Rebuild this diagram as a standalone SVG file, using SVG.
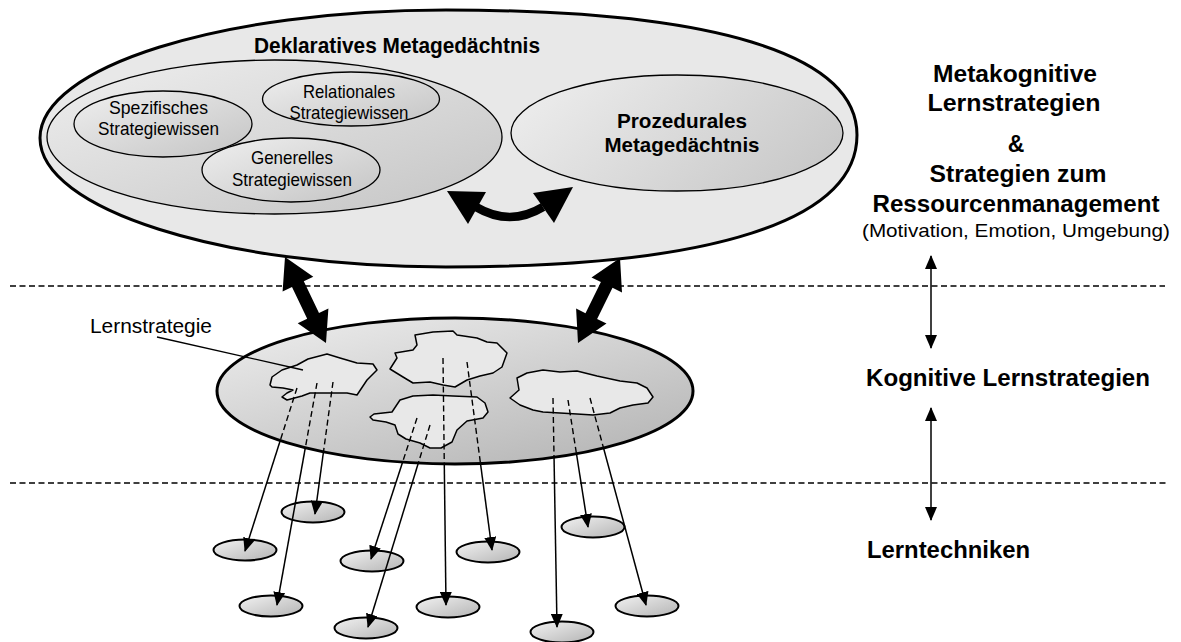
<svg xmlns="http://www.w3.org/2000/svg" width="1181" height="642" viewBox="0 0 1181 642">
  <defs>
    <style>
      .lbl { font-family: "Liberation Sans", Arial, sans-serif; fill: #000; }
      .b { font-weight: bold; }
      .mid { text-anchor: middle; }
      .blob { fill: #e8e8e8; stroke: #000; stroke-width: 1.5; stroke-linejoin: round; }
      .tech { fill: url(#gSmall); stroke: #000; stroke-width: 2; }
      .sep { fill: none; stroke: #000; stroke-width: 1.4; stroke-dasharray: 6 3.5; }
      .ray { fill: none; stroke: #000; stroke-width: 1.5; }
      .rayd { fill: none; stroke: #000; stroke-width: 1.4; stroke-dasharray: 6 3.5; }
    </style>
    <linearGradient id="gSoft" x1="0" y1="0" x2="1" y2="1">
      <stop offset="0" stop-color="#efefef"/>
      <stop offset="1" stop-color="#c4c4c4"/>
    </linearGradient>
    <linearGradient id="gProc" x1="0" y1="0.3" x2="1" y2="0.7">
      <stop offset="0" stop-color="#ececec"/>
      <stop offset="1" stop-color="#c8c8c8"/>
    </linearGradient>
    <linearGradient id="gKog" x1="0.1" y1="0" x2="0.9" y2="1">
      <stop offset="0" stop-color="#ececec"/>
      <stop offset="1" stop-color="#b4b4b4"/>
    </linearGradient>
    <linearGradient id="gSmall" x1="0" y1="0" x2="1" y2="1">
      <stop offset="0" stop-color="#f2f2f2"/>
      <stop offset="1" stop-color="#b4b4b4"/>
    </linearGradient>
    <marker id="tip" viewBox="0 0 14 12" refX="13" refY="6" markerWidth="14" markerHeight="12" markerUnits="userSpaceOnUse" orient="auto-start-reverse">
      <path d="M0,0 L14,6 L0,12 Z" fill="#000"/>
    </marker>
    <clipPath id="inKog">
      <ellipse cx="455" cy="391" rx="238" ry="73"/>
    </clipPath>
    <mask id="outKog" maskUnits="userSpaceOnUse" x="0" y="0" width="1181" height="642">
      <rect x="0" y="0" width="1181" height="642" fill="#fff"/>
      <ellipse cx="455" cy="391" rx="238" ry="73" fill="#000"/>
    </mask>
  </defs>

  <rect width="1181" height="642" fill="#fff"/>

  <!-- metacognitive memory -->
  <g id="meta">
    <path d="M40,138 C40,66.8 221.8,10 446,10 C713,10 857,53.8 857,135 C857,220.8 713,267 446,267 C221.8,267 40,209.2 40,138 Z" fill="#e8e8e8" stroke="#000" stroke-width="3"/>
    <text class="lbl b mid" x="397" y="53" font-size="22" textLength="286" lengthAdjust="spacingAndGlyphs">Deklaratives Metagedächtnis</text>
  </g>

  <g id="deklarativ">
    <ellipse cx="274.5" cy="137" rx="227.5" ry="77" fill="url(#gSoft)" stroke="#000" stroke-width="1.3"/>
  </g>

  <g id="spezifisch">
    <ellipse cx="163" cy="124" rx="89" ry="33" fill="url(#gSoft)" stroke="#000" stroke-width="1.3"/>
    <text class="lbl mid" x="158.5" y="114" font-size="18.5" textLength="99" lengthAdjust="spacingAndGlyphs">Spezifisches</text>
    <text class="lbl mid" x="158.5" y="135" font-size="18.5" textLength="121" lengthAdjust="spacingAndGlyphs">Strategiewissen</text>
  </g>

  <g id="relational">
    <ellipse cx="351" cy="99" rx="88.5" ry="27" fill="url(#gSoft)" stroke="#000" stroke-width="1.3"/>
    <text class="lbl mid" x="349" y="98" font-size="18.5" textLength="92" lengthAdjust="spacingAndGlyphs">Relationales</text>
    <text class="lbl mid" x="349" y="119" font-size="18.5" textLength="119" lengthAdjust="spacingAndGlyphs">Strategiewissen</text>
  </g>

  <g id="generell">
    <ellipse cx="291" cy="170" rx="89" ry="32" fill="url(#gSoft)" stroke="#000" stroke-width="1.3"/>
    <text class="lbl mid" x="292" y="164" font-size="18.5" textLength="82" lengthAdjust="spacingAndGlyphs">Generelles</text>
    <text class="lbl mid" x="292" y="186" font-size="18.5" textLength="120" lengthAdjust="spacingAndGlyphs">Strategiewissen</text>
  </g>

  <g id="prozedural">
    <ellipse cx="677" cy="133" rx="166" ry="58" fill="url(#gProc)" stroke="#000" stroke-width="1.3"/>
    <text class="lbl b mid" x="682" y="128" font-size="21" textLength="130" lengthAdjust="spacingAndGlyphs">Prozedurales</text>
    <text class="lbl b mid" x="682" y="152" font-size="21" textLength="155" lengthAdjust="spacingAndGlyphs">Metagedächtnis</text>
  </g>

  <!-- cognitive strategies -->
  <g id="kognitiv">
    <ellipse cx="455" cy="391" rx="238" ry="73" fill="url(#gKog)" stroke="#000" stroke-width="3"/>
  </g>

  <g id="strategien">
    <path class="blob" d="M270,385 L272,377 L282,370 L297,365 L308,359 L327,354 L340,358 L357,363 L373,364 L377,370 L367,380 L357,395 L347,393 L333,393 L322,393 L310,393 L302,396 L287,400 L282,397 L287,393 L293,390 L283,388 L272,387 Z"/>
    <path class="blob" d="M390,369 L397,358 L395,353 L413,350 L417,345 L415,335 L433,332 L453,331 L457,335 L477,338 L487,342 L497,343 L507,353 L502,367 L493,373 L480,376 L467,380 L455,387 L443,385 L430,382 L413,383 L403,377 Z"/>
    <path class="blob" d="M370,417 L374,414 L392,412 L400,400 L413,396 L433,395 L453,396 L477,397 L485,403 L488,412 L483,418 L467,421 L457,430 L452,442 L441,448 L430,448 L420,443 L406,439 L398,434 L395,425 L386,422 L373,420 Z"/>
    <path class="blob" d="M510,398 L519,390 L517,378 L527,373 L543,370 L560,372 L577,371 L597,376 L620,381 L637,383 L647,388 L653,397 L648,403 L633,405 L620,408 L610,413 L593,415 L577,414 L560,413 L543,412 L533,410 L520,405 Z"/>
  </g>

  <!-- learning techniques -->
  <g id="techniken">
    <ellipse class="tech" cx="313" cy="512" rx="31.5" ry="10.5"/>
    <ellipse class="tech" cx="245" cy="550" rx="31.5" ry="10.5"/>
    <ellipse class="tech" cx="372" cy="561" rx="31.5" ry="10.5"/>
    <ellipse class="tech" cx="488" cy="552" rx="31.5" ry="10.5"/>
    <ellipse class="tech" cx="593" cy="527" rx="31.5" ry="10.5"/>
    <ellipse class="tech" cx="271" cy="606" rx="31.5" ry="10.5"/>
    <ellipse class="tech" cx="366" cy="628" rx="31.5" ry="10.5"/>
    <ellipse class="tech" cx="448" cy="607" rx="31.5" ry="10.5"/>
    <ellipse class="tech" cx="562" cy="632" rx="31.5" ry="10.5"/>
    <ellipse class="tech" cx="647" cy="606" rx="31.5" ry="10.5"/>
  </g>

  <!-- level separators -->
  <g id="ebenen">
    <line class="sep" x1="10" y1="286" x2="1165" y2="286"/>
    <line class="sep" x1="10" y1="483" x2="1167" y2="483"/>
  </g>

  <!-- connectors -->
  <g id="connectors">
    <!-- curved exchange arrow between declarative and procedural memory -->
    <path d="M476,207 Q510,227 543,207" fill="none" stroke="#000" stroke-width="8.5"/>
    <polygon points="447,191 486,192 468,224" fill="#000"/>
    <polygon points="573,187 533,193 554,223" fill="#000"/>

    <!-- thick double arrows between metacognition and cognitive strategies -->
    <polygon points="285,257 313.3,276.8 303.8,281.3 319.0,313.1 328.4,308.6 326,343 297.7,323.2 307.2,318.7 292.0,286.9 282.6,291.4" fill="#000"/>
    <polygon points="620,258 622.0,292.4 612.5,287.8 597.1,319.0 606.5,323.6 578,343 576.1,308.6 585.5,313.2 600.9,282.0 591.5,277.4" fill="#000"/>

    <!-- strategy rays: dashed inside the cognitive layer, solid below -->
    <g clip-path="url(#inKog)">
      <line class="rayd" x1="297" y1="388" x2="245" y2="551"/>
      <line class="rayd" x1="317" y1="383" x2="277" y2="605"/>
      <line class="rayd" x1="333" y1="382" x2="315" y2="514"/>
      <line class="rayd" x1="417" y1="418" x2="371" y2="559"/>
      <line class="rayd" x1="430" y1="425" x2="368" y2="627"/>
      <line class="rayd" x1="443" y1="358" x2="446" y2="605"/>
      <line class="rayd" x1="467" y1="362" x2="492" y2="550"/>
      <line class="rayd" x1="553" y1="398" x2="557" y2="627"/>
      <line class="rayd" x1="568" y1="400" x2="588" y2="527"/>
      <line class="rayd" x1="590" y1="398" x2="646" y2="605"/>
    </g>
    <g mask="url(#outKog)">
      <line class="ray" x1="297" y1="388" x2="245" y2="551" marker-end="url(#tip)"/>
      <line class="ray" x1="317" y1="383" x2="277" y2="605" marker-end="url(#tip)"/>
      <line class="ray" x1="333" y1="382" x2="315" y2="514" marker-end="url(#tip)"/>
      <line class="ray" x1="417" y1="418" x2="371" y2="559" marker-end="url(#tip)"/>
      <line class="ray" x1="430" y1="425" x2="368" y2="627" marker-end="url(#tip)"/>
      <line class="ray" x1="443" y1="358" x2="446" y2="605" marker-end="url(#tip)"/>
      <line class="ray" x1="467" y1="362" x2="492" y2="550" marker-end="url(#tip)"/>
      <line class="ray" x1="553" y1="398" x2="557" y2="627" marker-end="url(#tip)"/>
      <line class="ray" x1="568" y1="400" x2="588" y2="527" marker-end="url(#tip)"/>
      <line class="ray" x1="590" y1="398" x2="646" y2="605" marker-end="url(#tip)"/>
    </g>

    <!-- level arrows on the right -->
    <line class="ray" x1="931" y1="256" x2="931" y2="348" stroke-width="2" marker-start="url(#tip)" marker-end="url(#tip)"/>
    <line class="ray" x1="931" y1="408" x2="931" y2="520" stroke-width="2" marker-start="url(#tip)" marker-end="url(#tip)"/>

    <!-- label leader -->
    <line x1="157" y1="337" x2="303" y2="370" stroke="#000" stroke-width="1.3"/>
  </g>

  <g id="label-lernstrategie">
    <text class="lbl" x="90" y="333" font-size="19.5" textLength="122" lengthAdjust="spacingAndGlyphs">Lernstrategie</text>
  </g>

  <!-- level captions -->
  <g id="caption-meta">
    <text class="lbl b mid" x="1015" y="82" font-size="23" textLength="164" lengthAdjust="spacingAndGlyphs">Metakognitive</text>
    <text class="lbl b mid" x="1014" y="111" font-size="23" textLength="173" lengthAdjust="spacingAndGlyphs">Lernstrategien</text>
    <text class="lbl b mid" x="1016" y="152" font-size="23">&amp;</text>
    <text class="lbl b mid" x="1018" y="182" font-size="23" textLength="177" lengthAdjust="spacingAndGlyphs">Strategien zum</text>
    <text class="lbl b mid" x="1016" y="212" font-size="23" textLength="287" lengthAdjust="spacingAndGlyphs">Ressourcenmanagement</text>
    <text class="lbl mid" x="1016" y="237" font-size="19" textLength="308" lengthAdjust="spacingAndGlyphs">(Motivation, Emotion, Umgebung)</text>
  </g>
  <g id="caption-kognitiv">
    <text class="lbl b" x="866" y="386" font-size="23" textLength="284" lengthAdjust="spacingAndGlyphs">Kognitive Lernstrategien</text>
  </g>
  <g id="caption-techniken">
    <text class="lbl b" x="867" y="558" font-size="23" textLength="163" lengthAdjust="spacingAndGlyphs">Lerntechniken</text>
  </g>
</svg>
